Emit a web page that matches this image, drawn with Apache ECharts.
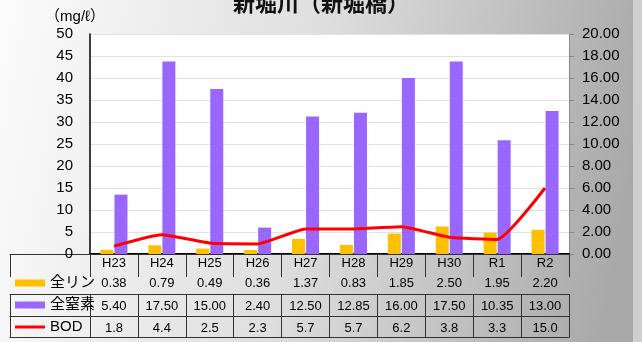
<!DOCTYPE html>
<html>
<head>
<meta charset="utf-8">
<script src="https://cdn.jsdelivr.net/npm/echarts@6/dist/echarts.min.js"></script>
<style>html,body{margin:0;padding:0;}#c{width:642px;height:342px;}</style>
</head>
<body>
<div id="c"></div>
<script>
const title = '新堀川（新堀橋）';
const unitLabel = '（mg/ℓ）';
const categories = ['H23','H24','H25','H26','H27','H28','H29','H30','R1','R2'];
const seriesNames = ['全リン','全窒素','BOD'];
const phosphorus = [0.38,0.79,0.49,0.36,1.37,0.83,1.85,2.50,1.95,2.20];
const nitrogen = [5.40,17.50,15.00,2.40,12.50,12.85,16.00,17.50,10.35,13.00];
const bod = [1.8,4.4,2.5,2.3,5.7,5.7,6.2,3.8,3.3,15.0];

const FONT = '"Liberation Sans", "Noto Sans CJK JP", sans-serif';
const lineCol = '#333';

function rowAxis(grid, data, offset, tickLen, showLabel, showTick) {
  return {
    type: 'category', gridIndex: grid, position: 'bottom', offset: offset,
    data: data, boundaryGap: true,
    axisLine: { show: true, lineStyle: { color: lineCol, width: 1 } },
    axisTick: { show: showTick, length: tickLen, interval: 0, lineStyle: { color: lineCol, width: 1 } },
    axisLabel: { show: showLabel, interval: 0, margin: 6, fontSize: 13, color: '#000', fontFamily: FONT },
    splitLine: { show: false }
  };
}

const chart = echarts.init(document.getElementById('c'));
chart.setOption({
  animation: false,
  backgroundColor: {
    type: 'linear', x: 0, y: 0, x2: 1, y2: 0.35,
    colorStops: [{ offset: 0, color: '#fcfcfc' }, { offset: 0.5, color: '#dedede' }, { offset: 1, color: '#a9a9a9' }]
  },
  textStyle: { fontFamily: FONT },
  title: {
    text: title, left: 'center', top: -11,
    textStyle: { fontSize: 22, fontWeight: 'bold', color: '#111', fontFamily: FONT }
  },
  graphic: [
    { type: 'rect', right: 0, top: 0, shape: { width: 9, height: 342 }, style: { fill: '#cfcfcf' }, z: -1 }
  ],
  legend: {
    orient: 'vertical', left: 15, top: 275, padding: 0,
    itemWidth: 30, itemHeight: 7, itemGap: 6,
    data: [
      { name: seriesNames[0], icon: 'rect' },
      { name: seriesNames[1], icon: 'rect' },
      { name: seriesNames[2], icon: 'path://M0,0 M30,0 M0,7 M30,7 M0,2 L30,2 L30,5 L0,5 Z' }
    ],
    textStyle: { fontSize: 15, color: '#000', lineHeight: 16, fontFamily: FONT }
  },
  grid: [
    { left: 90, right: 73, top: 34, bottom: 88, show: true, backgroundColor: '#fff', borderWidth: 0 },
    { left: 10, width: 80, top: 34, bottom: 88, show: false }
  ],
  xAxis: [
    {
      type: 'category', gridIndex: 0, data: categories, boundaryGap: true,
      axisLine: { show: true, lineStyle: { color: '#000', width: 2 } },
      axisTick: { show: true, length: 17, interval: 0, lineStyle: { color: lineCol } },
      axisLabel: { interval: 0, margin: 3, fontSize: 13, color: '#000', fontFamily: FONT }
    },
    rowAxis(0, phosphorus.map(v => v.toFixed(2)), 17, 23, true, true),
    rowAxis(0, nitrogen.map(v => v.toFixed(2)), 40, 22, true, true),
    rowAxis(0, bod.map(v => v.toFixed(1)), 62, 21, true, true),
    rowAxis(0, categories, 83, 0, false, false),
    rowAxis(1, [''], 17, 23, false, true),
    rowAxis(1, [''], 40, 22, false, true),
    rowAxis(1, [''], 62, 21, false, true),
    rowAxis(1, [''], 83, 0, false, false)
  ],
  yAxis: [
    {
      type: 'value', gridIndex: 0, min: 0, max: 50, interval: 5, position: 'left',
      name: unitLabel, nameLocation: 'end', nameGap: 10,
      nameTextStyle: { fontSize: 15, color: '#000', padding: [0, 30, 0, 0], fontFamily: FONT },
      axisLine: { show: true, lineStyle: { color: '#000', width: 1.5 } },
      axisTick: { show: false },
      axisLabel: { fontSize: 15, color: '#000', margin: 17, fontFamily: FONT },
      splitLine: { show: true, lineStyle: { color: '#e2e2e2', width: 1 } }
    },
    {
      type: 'value', gridIndex: 0, min: 0, max: 20, interval: 2, position: 'right',
      axisLine: { show: true, lineStyle: { color: '#888', width: 1 } },
      axisTick: { show: true, length: 5, lineStyle: { color: '#888' } },
      axisLabel: { fontSize: 15, color: '#000', margin: 13, fontFamily: FONT, formatter: v => v.toFixed(2) },
      splitLine: { show: false }
    },
    { type: 'value', gridIndex: 1, show: false }
  ],
  series: [
    {
      name: seriesNames[0], type: 'bar', xAxisIndex: 0, yAxisIndex: 1, data: phosphorus,
      barWidth: 13, barGap: '8%', itemStyle: { color: '#FFC000' }
    },
    {
      name: seriesNames[1], type: 'bar', xAxisIndex: 0, yAxisIndex: 1, data: nitrogen,
      barWidth: 13, barGap: '8%', itemStyle: { color: '#9966FF' }
    },
    {
      name: seriesNames[2], type: 'line', xAxisIndex: 0, yAxisIndex: 0, data: bod,
      symbol: 'none', smooth: 0.15, lineStyle: { color: '#FF0000', width: 3 },
      itemStyle: { color: '#FF0000' }, z: 5
    }
  ]
});
</script>
</body>
</html>
